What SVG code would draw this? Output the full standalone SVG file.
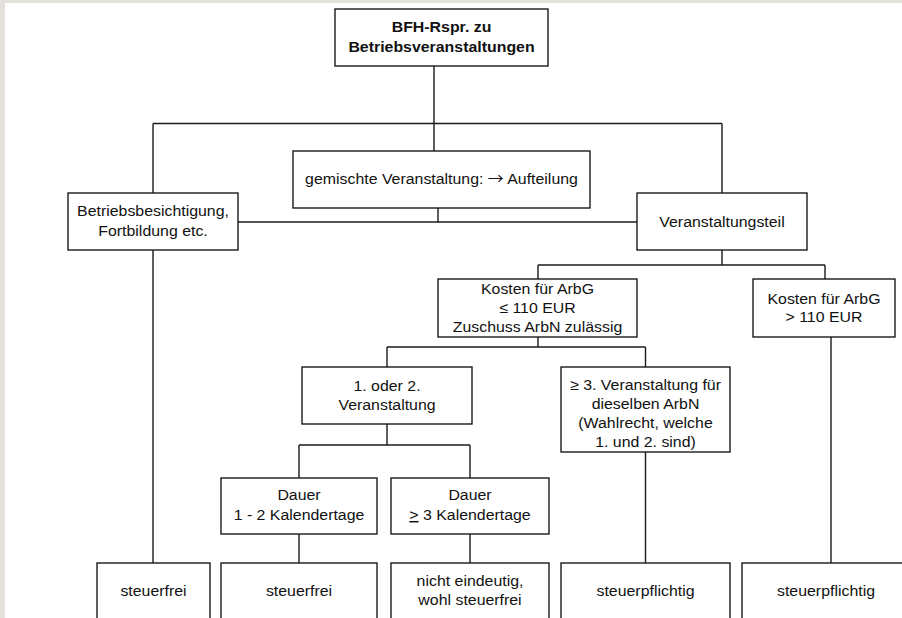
<svg xmlns="http://www.w3.org/2000/svg" width="902" height="618" viewBox="0 0 902 618">
  <style>
    .box { fill: #ffffff; stroke: #1a1a1a; stroke-width: 1.4; }
    .edge { fill: none; stroke: #1a1a1a; stroke-width: 1.4; }
    .t { font-family: "Liberation Sans", Arial, sans-serif; font-size: 15px; fill: #111; text-anchor: middle; }
    .b { font-weight: bold; }
    .arrow { font-family: "Noto Sans CJK SC", "DejaVu Sans", sans-serif; }
  </style>

  <!-- page backdrop -->
  <rect x="0" y="0" width="902" height="618" fill="#e4e0dc"/>
  <rect x="5" y="3" width="897" height="615" fill="#ffffff"/>

  <!-- connectors -->
  <g id="connectors">
    <path class="edge" d="M434,66 V151"/>
    <path class="edge" d="M153,123.5 H722"/>
    <path class="edge" d="M153,123.5 V193"/>
    <path class="edge" d="M722,123.5 V193"/>
    <path class="edge" d="M438,208 V222"/>
    <path class="edge" d="M238,222 H637"/>
    <path class="edge" d="M153,250 V563"/>
    <path class="edge" d="M722,250 V265"/>
    <path class="edge" d="M538,265 H825"/>
    <path class="edge" d="M538,265 V279"/>
    <path class="edge" d="M825,265 V279"/>
    <path class="edge" d="M538,337 V347"/>
    <path class="edge" d="M387,347 H645.5"/>
    <path class="edge" d="M387,347 V367"/>
    <path class="edge" d="M645.5,347 V367"/>
    <path class="edge" d="M387,424 V445"/>
    <path class="edge" d="M299,445 H470"/>
    <path class="edge" d="M299,445 V478"/>
    <path class="edge" d="M470,445 V478"/>
    <path class="edge" d="M299,534 V563"/>
    <path class="edge" d="M470,534 V563"/>
    <path class="edge" d="M645.5,452 V563"/>
    <path class="edge" d="M831,337 V563"/>
  </g>

  <g id="root">
    <rect class="box" x="335" y="9" width="213" height="57"/>
    <text class="t b" transform="translate(441.5,0) scale(1.06,1)"><tspan x="0" y="32.5">BFH-Rspr. zu</tspan><tspan x="0" y="52.5">Betriebsveranstaltungen</tspan></text>
  </g>

  <g id="gemischt">
    <rect class="box" x="293" y="151" width="297" height="57"/>
    <text class="t" transform="translate(441.5,0) scale(1.06,1)"><tspan x="0" y="184.5">gemischte Veranstaltung: <tspan class="arrow">→</tspan> Aufteilung</tspan></text>
  </g>

  <g id="besichtigung">
    <rect class="box" x="68" y="193" width="170" height="57"/>
    <text class="t" transform="translate(153,0) scale(1.06,1)"><tspan x="0" y="216.5">Betriebsbesichtigung,</tspan><tspan x="0" y="236.5">Fortbildung etc.</tspan></text>
  </g>

  <g id="veranstaltungsteil">
    <rect class="box" x="637" y="193" width="170" height="57"/>
    <text class="t" transform="translate(722,0) scale(1.06,1)"><tspan x="0" y="227">Veranstaltungsteil</tspan></text>
  </g>

  <g id="kosten-bis-110">
    <rect class="box" x="438" y="279" width="199" height="58"/>
    <text class="t" transform="translate(537.5,0) scale(1.06,1)"><tspan x="0" y="294">Kosten für ArbG</tspan><tspan x="0" y="313.5">≤ 110 EUR</tspan><tspan x="0" y="332.5">Zuschuss ArbN zulässig</tspan></text>
  </g>

  <g id="kosten-ueber-110">
    <rect class="box" x="753" y="279" width="142" height="58"/>
    <text class="t" transform="translate(824,0) scale(1.06,1)"><tspan x="0" y="304">Kosten für ArbG</tspan><tspan x="0" y="322.5">&gt; 110 EUR</tspan></text>
  </g>

  <g id="erste-zweite">
    <rect class="box" x="302" y="367" width="170" height="57"/>
    <text class="t" transform="translate(387,0) scale(1.06,1)"><tspan x="0" y="391">1. oder 2.</tspan><tspan x="0" y="410.5">Veranstaltung</tspan></text>
  </g>

  <g id="dritte">
    <rect class="box" x="561" y="367" width="169" height="85"/>
    <text class="t" transform="translate(645.5,0) scale(1.06,1)"><tspan x="0" y="390">≥ 3. Veranstaltung für</tspan><tspan x="0" y="409">dieselben ArbN</tspan><tspan x="0" y="428">(Wahlrecht, welche</tspan><tspan x="0" y="447">1. und 2. sind)</tspan></text>
  </g>

  <g id="dauer-kurz">
    <rect class="box" x="221" y="478" width="156" height="56"/>
    <text class="t" transform="translate(299,0) scale(1.06,1)"><tspan x="0" y="500.5">Dauer</tspan><tspan x="0" y="520">1 - 2 Kalendertage</tspan></text>
  </g>

  <g id="dauer-lang">
    <rect class="box" x="391" y="478" width="158" height="56"/>
    <text class="t" transform="translate(470,0) scale(1.06,1)"><tspan x="0" y="500.5">Dauer</tspan><tspan x="0" y="520"><tspan text-decoration="underline">&gt;</tspan> 3 Kalendertage</tspan></text>
  </g>

  <g id="ergebnis-1">
    <rect class="box" x="97" y="563" width="113" height="70"/>
    <text class="t" transform="translate(153.5,0) scale(1.06,1)"><tspan x="0" y="596">steuerfrei</tspan></text>
  </g>

  <g id="ergebnis-2">
    <rect class="box" x="221" y="563" width="156" height="70"/>
    <text class="t" transform="translate(299,0) scale(1.06,1)"><tspan x="0" y="596">steuerfrei</tspan></text>
  </g>

  <g id="ergebnis-3">
    <rect class="box" x="391" y="563" width="158" height="70"/>
    <text class="t" transform="translate(470,0) scale(1.06,1)"><tspan x="0" y="586">nicht eindeutig,</tspan><tspan x="0" y="605.5">wohl steuerfrei</tspan></text>
  </g>

  <g id="ergebnis-4">
    <rect class="box" x="561" y="563" width="169" height="70"/>
    <text class="t" transform="translate(645.5,0) scale(1.06,1)"><tspan x="0" y="596">steuerpflichtig</tspan></text>
  </g>

  <g id="ergebnis-5">
    <rect class="box" x="742" y="563" width="168" height="70"/>
    <text class="t" transform="translate(826,0) scale(1.06,1)"><tspan x="0" y="596">steuerpflichtig</tspan></text>
  </g>
</svg>
